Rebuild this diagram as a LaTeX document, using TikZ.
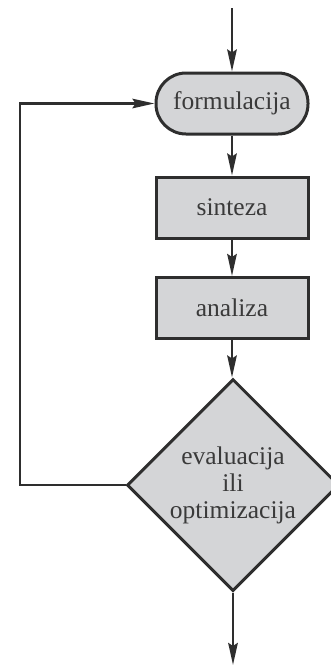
\documentclass[tikz,border=0pt]{standalone}
\usepackage{fontspec}
\setmainfont{Liberation Serif}
\usetikzlibrary{shapes.geometric,arrows.meta}
\definecolor{ink}{HTML}{2E2E2E}
\definecolor{boxfill}{HTML}{D4D5D7}
\definecolor{txt}{HTML}{3A3A3A}
\tikzset{
  blk/.style={draw=ink, fill=boxfill, line width=3pt, text=txt,
    font=\fontsize{25.5}{28}\selectfont, inner sep=0pt},
  termbox/.style={blk, rectangle, rounded corners=30pt, minimum width=152pt, minimum height=61pt},
  procbox/.style={blk, rectangle, minimum width=152pt, minimum height=61pt},
  decbox/.style={blk, diamond, aspect=1, minimum size=212pt, align=center},
  arr/.style={draw=ink, line width=2.4pt, -{Stealth[length=22pt,width=9.5pt,inset=3pt]}}
}
\begin{document}
\begin{tikzpicture}[x=1pt,y=-1pt]
\useasboundingbox (0,0) rectangle (331,667);
\coordinate (start) at (232,8);
\node[termbox] (form) at (232,103.5) {formulacija};
\node[procbox] (sint) at (232,207.5) {sinteza};
\node[procbox] (anal) at (232,308) {analiza};
\node[decbox] (eval) at (233,485) {evaluacija\\[-1pt]ili\\[-1pt]optimizacija};
\coordinate (fb) at (20,485);
\coordinate (end) at (233,665);
\draw[arr] (start) -- (form.north);
\draw[arr] (form.south) -- (sint.north);
\draw[arr] (sint.south) -- (anal.north);
\draw[arr] (anal.south) -- (anal.south |- eval.north);
\draw[arr] (eval.west) -- (fb) |- (form.west);
\draw[arr] (eval.south) -- (end);
\end{tikzpicture}
\end{document}
